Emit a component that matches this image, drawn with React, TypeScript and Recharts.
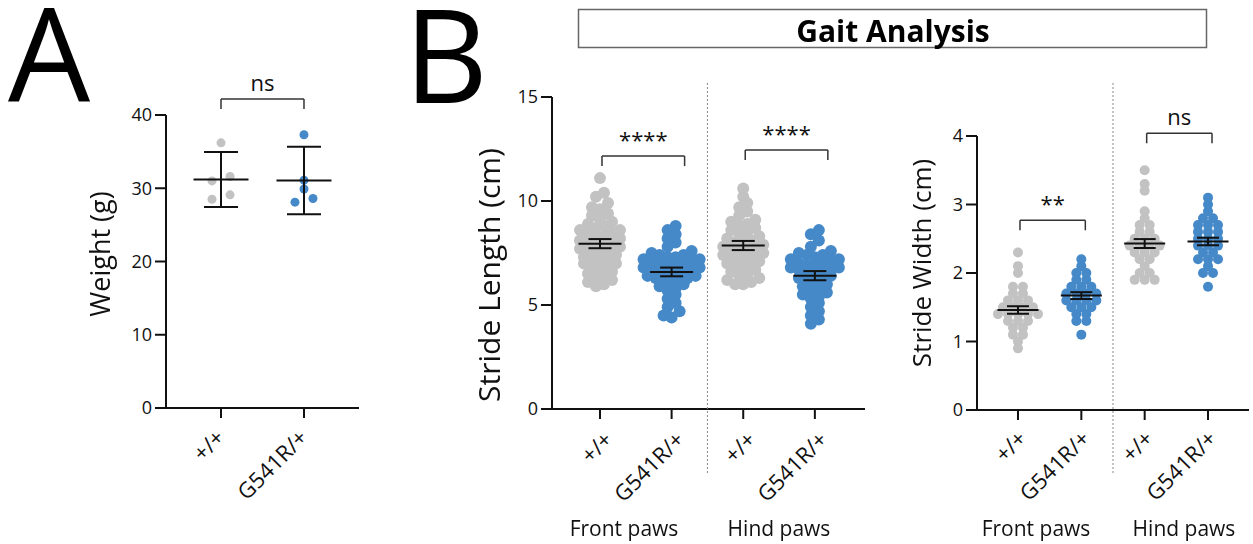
import React from 'react'
import { ScatterChart, Scatter, XAxis, YAxis, ReferenceLine } from 'recharts'

const FONT = '"Open Sans", "Noto Sans", sans-serif'
const GREY = '#c2c2c2'
const BLUE = '#4689c8'
const INK = '#111'

const genotypes = ['+/+', 'G541R/+']

// A - body weight (g), mean +/- SD
const weightWT = [36.2, 31.6, 31.0, 28.5, 29.1]
const weightMut = [37.3, 31.1, 29.9, 28.1, 28.6]
const weightMean = [31.2, 31.05]
const weightErr = [3.75, 4.6]
const weightTicks = [0, 10, 20, 30, 40]

// B - stride length (cm), mean +/- SEM
const lenFrontWT = [11.1, 10.4, 10.2, 9.9, 9.7, 9.6, 9.4, 9.3, 9.1, 9.0, 8.9, 8.8, 8.7, 8.6, 8.6, 8.5, 8.4, 8.3, 8.3, 8.2, 8.1, 8.0, 8.0, 7.9, 7.9, 7.8, 7.7, 7.7, 7.6, 7.5, 7.5, 7.4, 7.3, 7.3, 7.2, 7.1, 7.0, 7.0, 6.9, 6.8, 6.7, 6.6, 6.5, 6.4, 6.3, 6.2, 6.1, 6.0, 5.9]
const lenFrontMut = [8.8, 8.6, 8.4, 8.2, 8.0, 7.8, 7.6, 7.5, 7.4, 7.4, 7.3, 7.3, 7.2, 7.2, 7.1, 7.1, 7.0, 7.0, 6.9, 6.9, 6.8, 6.8, 6.7, 6.7, 6.6, 6.6, 6.5, 6.5, 6.4, 6.4, 6.3, 6.3, 6.2, 6.2, 6.1, 6.0, 5.9, 5.8, 5.7, 5.5, 5.3, 5.1, 4.9, 4.7, 4.5, 4.4]
const lenHindWT = [10.6, 10.2, 9.9, 9.7, 9.5, 9.3, 9.1, 9.0, 8.9, 8.8, 8.7, 8.6, 8.5, 8.4, 8.3, 8.2, 8.1, 8.0, 8.0, 7.9, 7.8, 7.8, 7.7, 7.6, 7.6, 7.5, 7.4, 7.4, 7.3, 7.2, 7.2, 7.1, 7.0, 7.0, 6.9, 6.8, 6.7, 6.6, 6.5, 6.4, 6.3, 6.2, 6.1, 6.0, 6.0]
const lenHindMut = [8.6, 8.4, 8.1, 7.8, 7.6, 7.5, 7.4, 7.4, 7.3, 7.2, 7.2, 7.1, 7.0, 7.0, 6.9, 6.9, 6.8, 6.8, 6.7, 6.7, 6.6, 6.5, 6.5, 6.4, 6.3, 6.3, 6.2, 6.1, 6.0, 5.9, 5.8, 5.7, 5.6, 5.5, 5.4, 5.3, 5.1, 4.9, 4.7, 4.5, 4.3, 4.1]
const lenMean = [7.95, 6.59, 7.86, 6.41]
const lenErr = [0.22, 0.21, 0.22, 0.22]
const lenTicks = [0, 5, 10, 15]

// C - stride width (cm), mean +/- SEM
const widFrontWT = [2.3, 2.1, 2.0, 1.8, 1.8, 1.7, 1.7, 1.6, 1.6, 1.6, 1.5, 1.5, 1.5, 1.5, 1.4, 1.4, 1.4, 1.4, 1.4, 1.3, 1.3, 1.3, 1.2, 1.2, 1.1, 1.1, 1.0, 0.9]
const widFrontMut = [2.2, 2.1, 2.0, 2.0, 1.9, 1.9, 1.8, 1.8, 1.8, 1.7, 1.7, 1.7, 1.7, 1.6, 1.6, 1.6, 1.6, 1.5, 1.5, 1.5, 1.4, 1.4, 1.3, 1.3, 1.1]
const widHindWT = [3.5, 3.3, 3.2, 2.9, 2.8, 2.7, 2.7, 2.6, 2.6, 2.5, 2.5, 2.5, 2.4, 2.4, 2.4, 2.4, 2.3, 2.3, 2.3, 2.2, 2.2, 2.1, 2.0, 2.0, 1.9, 1.9, 1.9]
const widHindMut = [3.1, 3.0, 2.9, 2.8, 2.8, 2.7, 2.7, 2.7, 2.6, 2.6, 2.6, 2.5, 2.5, 2.5, 2.4, 2.4, 2.4, 2.3, 2.3, 2.2, 2.2, 2.2, 2.1, 2.0, 2.0, 1.8]
const widMean = [1.46, 1.67, 2.43, 2.46]
const widErr = [0.055, 0.05, 0.065, 0.055]
const widTicks = [0, 1, 2, 3, 4]

// significance brackets: categories a..b, bracket height (data units), text
const weightSig = [{ a: 1, b: 2, y: 42.2, text: 'ns' }]
const lenSig = [
  { a: 1, b: 2, y: 12.16, text: '****' },
  { a: 3, b: 4, y: 12.45, text: '****' },
]
const widSig = [
  { a: 1, b: 2, y: 2.77, text: '**' },
  { a: 3, b: 4, y: 4.04, text: 'ns' },
]

type Pt = { x: number; y: number }

// simple row-binned swarm (GraphPad style scatter)
function swarm(values: number[], cat: number, pxY: number, pxX: number, rowPx: number, stepPx: number): Pt[] {
  const sorted = [...values].sort((a, b) => a - b)
  const rows: number[][] = []
  let row: number[] = []
  for (const v of sorted) {
    if (row.length && (v - row[0]) * pxY < rowPx) row.push(v)
    else {
      if (row.length) rows.push(row)
      row = [v]
    }
  }
  if (row.length) rows.push(row)
  const pts: Pt[] = []
  for (const r of rows) {
    const k = r.length
    const slots = Array.from({ length: k }, (_, i) => i - (k - 1) / 2).sort(
      (p, q) => Math.abs(p) - Math.abs(q) || p - q
    )
    r.forEach((v, i) => pts.push({ x: cat + (slots[i] * stepPx) / pxX, y: v }))
  }
  return pts
}

interface PanelProps {
  left: number
  right: number
  top: number
  bottom: number
  xDomain: [number, number]
  yMax: number
  yTicks: number[]
  groups: number[][]
  means: number[]
  errs: number[]
  sig: { a: number; b: number; y: number; text: string }[]
  dotR: number
  rowPx: number
  stepPx: number
  meanHalf: number
  capHalf: number
  labelDx: number
  labelDy: number
  bracketShift: [number, number]
}

function Panel(p: PanelProps) {
  const pxX = (p.right - p.left) / (p.xDomain[1] - p.xDomain[0])
  const pxY = (p.bottom - p.top) / p.yMax
  const cats = p.groups.map((_, i) => i + 1)
  const offL = 70
  const width = p.right - p.left + offL + 8
  const xAxisH = 100
  const drop = 10 / pxY

  const meanData = cats.map((c, i) => ({ x: c, y: p.means[i], err: p.errs[i] }))

  const XTick = (props: any) => {
    const { x, y, payload } = props
    const label = genotypes[(payload.value - 1) % 2]
    const px = x + p.labelDx
    const py = y + p.labelDy
    return (
      <text
        x={px}
        y={py}
        textAnchor="end"
        transform={`rotate(-45, ${px}, ${py})`}
        fontSize={22}
        fontFamily={FONT}
        fill={INK}
      >
        {label}
      </text>
    )
  }

  // mean line with error whiskers; whisker length from the same y scale
  const MeanShape = (s: any) => {
    const e = s.payload.err * pxY
    const { cx, cy } = s
    return (
      <g stroke={INK} strokeWidth={2}>
        <line x1={cx - p.meanHalf} x2={cx + p.meanHalf} y1={cy} y2={cy} />
        <line x1={cx} x2={cx} y1={cy - e} y2={cy + e} />
        <line x1={cx - p.capHalf} x2={cx + p.capHalf} y1={cy - e} y2={cy - e} />
        <line x1={cx - p.capHalf} x2={cx + p.capHalf} y1={cy + e} y2={cy + e} />
      </g>
    )
  }

  return (
    <div style={{ position: 'absolute', left: p.left - offL, top: 0 }}>
      <ScatterChart
        width={width}
        height={544}
        margin={{ top: p.top, right: 8, bottom: 544 - p.bottom - xAxisH, left: offL - 60 }}
      >
        <XAxis
          type="number"
          dataKey="x"
          domain={p.xDomain}
          allowDataOverflow
          ticks={cats}
          interval={0}
          height={xAxisH}
          tickSize={10}
          tickMargin={3}
          axisLine={{ stroke: INK, strokeWidth: 2 }}
          tickLine={{ stroke: INK, strokeWidth: 2 }}
          tick={<XTick />}
        />
        <YAxis
          type="number"
          dataKey="y"
          domain={[0, p.yMax]}
          allowDataOverflow
          ticks={p.yTicks}
          interval={0}
          width={60}
          tickSize={11}
          tickMargin={3}
          axisLine={{ stroke: INK, strokeWidth: 2 }}
          tickLine={{ stroke: INK, strokeWidth: 2 }}
          tick={{ fontSize: 18, fill: INK, fontFamily: FONT }}
        />
        {p.groups.map((vals, i) => (
          <Scatter
            key={i}
            data={swarm(vals, cats[i], pxY, pxX, p.rowPx, p.stepPx)}
            isAnimationActive={false}
            shape={(s: any) => <circle cx={s.cx} cy={s.cy} r={p.dotR} fill={i % 2 === 0 ? GREY : BLUE} />}
          />
        ))}
        <Scatter data={meanData} isAnimationActive={false} shape={MeanShape} />
        {p.sig.map((s, i) => {
          const xa = s.a + p.bracketShift[0] / pxX
          const xb = s.b + p.bracketShift[1] / pxX
          return (
            <React.Fragment key={i}>
              <ReferenceLine
                ifOverflow="visible"
                segment={[{ x: xa, y: s.y }, { x: xb, y: s.y }]}
                stroke="#333"
                strokeWidth={1.5}
                label={{ value: s.text, position: 'top', offset: 8, fontSize: 22, fill: INK, fontFamily: FONT }}
              />
              <ReferenceLine ifOverflow="visible" segment={[{ x: xa, y: s.y }, { x: xa, y: s.y - drop }]} stroke="#333" strokeWidth={1.5} />
              <ReferenceLine ifOverflow="visible" segment={[{ x: xb, y: s.y }, { x: xb, y: s.y - drop }]} stroke="#333" strokeWidth={1.5} />
            </React.Fragment>
          )
        })}
      </ScatterChart>
    </div>
  )
}

const A = { left: 166, right: 359, top: 115, bottom: 408, xDomain: [0.337, 2.663] as [number, number] }
const B = { left: 552, right: 865, top: 97, bottom: 409, xDomain: [0.33, 4.7] as [number, number] }
const C = { left: 977, right: 1249, top: 136, bottom: 410, xDomain: [0.353, 4.647] as [number, number] }

const dividerX = (L: typeof B) => L.left + ((2.5 - L.xDomain[0]) * (L.right - L.left)) / (L.xDomain[1] - L.xDomain[0])

const letterStyle: React.CSSProperties = {
  position: 'absolute',
  fontFamily: FONT,
  fontSize: 130,
  lineHeight: '94px',
  height: 94,
  color: '#000',
}

export default function App() {
  return (
    <div style={{ position: 'fixed', left: 0, top: 0, width: 1253, height: 544, background: '#fff', fontFamily: FONT }}>
      <Panel
        {...A}
        yMax={40}
        yTicks={weightTicks}
        groups={[weightWT, weightMut]}
        means={weightMean}
        errs={weightErr}
        sig={weightSig}
        dotR={4.5}
        rowPx={8}
        stepPx={18}
        meanHalf={27.5}
        capHalf={17}
        labelDx={5}
        labelDy={18}
        bracketShift={[0, 0]}
      />
      <Panel
        {...B}
        yMax={15}
        yTicks={lenTicks}
        groups={[lenFrontWT, lenFrontMut, lenHindWT, lenHindMut]}
        means={lenMean}
        errs={lenErr}
        sig={lenSig}
        dotR={6}
        rowPx={7}
        stepPx={8}
        meanHalf={21.5}
        capHalf={11.5}
        labelDx={14}
        labelDy={19}
        bracketShift={[2, 13]}
      />
      <Panel
        {...C}
        yMax={4}
        yTicks={widTicks}
        groups={[widFrontWT, widFrontMut, widHindWT, widHindMut]}
        means={widMean}
        errs={widErr}
        sig={widSig}
        dotR={5}
        rowPx={6}
        stepPx={10}
        meanHalf={20.5}
        capHalf={11}
        labelDx={10}
        labelDy={17}
        bracketShift={[2, 4]}
      />
      <div style={{ ...letterStyle, left: 8, top: 5 }}>A</div>
      <div style={{ ...letterStyle, left: 404, top: 6 }}>B</div>
      <svg width={1253} height={544} style={{ position: 'absolute', left: 0, top: 0, pointerEvents: 'none' }}>
        <rect x={578.5} y={9.5} width={628} height={38} fill="none" stroke="#666" strokeWidth={1.5} />
        <text x={893} y={30} fontSize={30} fontWeight={700} fontFamily={FONT} textAnchor="middle" dominantBaseline="central" fill="#000">
          Gait Analysis
        </text>
        <text x={99} y={254} fontSize={27} fontFamily={FONT} textAnchor="middle" dominantBaseline="central" transform="rotate(-90, 99, 254)" fill={INK}>
          Weight (g)
        </text>
        <text x={488} y={275} fontSize={30} fontFamily={FONT} textAnchor="middle" dominantBaseline="central" transform="rotate(-90, 488, 275)" fill={INK}>
          Stride Length (cm)
        </text>
        <text x={921} y={263} fontSize={26} fontFamily={FONT} textAnchor="middle" dominantBaseline="central" transform="rotate(-90, 921, 263)" fill={INK}>
          Stride Width (cm)
        </text>
        <line x1={dividerX(B)} x2={dividerX(B)} y1={83} y2={473} stroke="#888" strokeWidth={1} strokeDasharray="2 2" />
        <line x1={dividerX(C)} x2={dividerX(C)} y1={83} y2={473} stroke="#888" strokeWidth={1} strokeDasharray="2 2" />
        <text x={624} y={528} fontSize={21} fontFamily={FONT} textAnchor="middle" dominantBaseline="central" fill={INK}>Front paws</text>
        <text x={779} y={528} fontSize={21} fontFamily={FONT} textAnchor="middle" dominantBaseline="central" fill={INK}>Hind paws</text>
        <text x={1036} y={528} fontSize={21} fontFamily={FONT} textAnchor="middle" dominantBaseline="central" fill={INK}>Front paws</text>
        <text x={1184} y={528} fontSize={21} fontFamily={FONT} textAnchor="middle" dominantBaseline="central" fill={INK}>Hind paws</text>
      </svg>
    </div>
  )
}
